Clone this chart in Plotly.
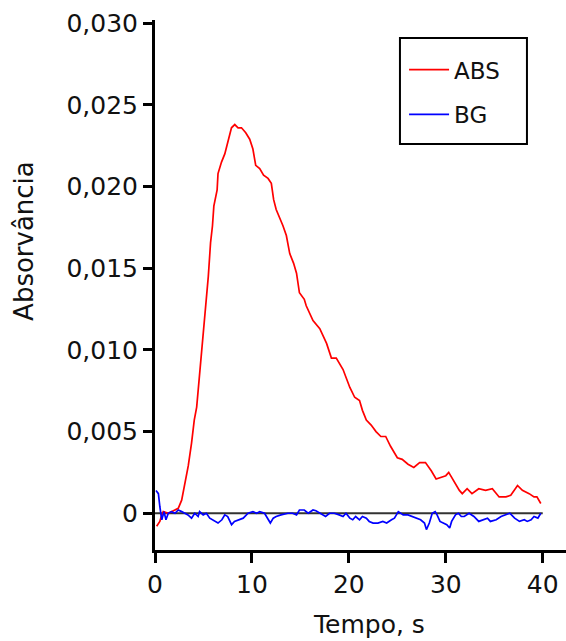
import plotly.graph_objects as go

abs_x = [0.17, 0.5, 0.7, 0.85, 1.37, 1.7, 2.06, 2.4, 2.75, 3.1, 3.43, 3.77, 4.05, 4.3, 4.56, 4.8,
         5.04, 5.3, 5.5, 5.73, 5.93, 6.07, 6.41, 6.5, 6.86, 7.2, 7.44, 7.65, 7.89, 8.23, 8.57,
         8.92, 9.36, 9.77, 10.1, 10.39, 10.8, 11.2, 11.66, 12.0, 12.24, 12.5, 12.86, 13.2, 13.55,
         13.9, 14.3, 14.6, 14.9, 15.4, 15.6, 16.3, 17.0, 17.7, 18.2, 18.7, 19.4, 20.1, 20.6, 21.1,
         21.4, 21.8, 22.3, 22.8, 23.3, 23.8, 24.3, 25.0, 25.5, 26.1, 26.7, 27.3, 27.9, 28.5, 29.0,
         29.5, 30.0, 30.3, 30.9, 31.4, 31.7, 32.2, 32.7, 33.4, 34.1, 34.8, 35.5, 36.2, 36.7, 37.4,
         37.9, 38.6, 39.1, 39.4, 39.8]
abs_y = [-0.0008, -0.0005, -0.0001, 0.0001, 0.0, 0.0001, 0.0002, 0.0003, 0.0008, 0.0018, 0.0029,
         0.0043, 0.0057, 0.0065, 0.0082, 0.0098, 0.0112, 0.0129, 0.0145, 0.01655, 0.0176, 0.0188,
         0.0198, 0.0208, 0.0215, 0.0220, 0.0225, 0.0230, 0.0236, 0.0238, 0.0236, 0.0236, 0.0233,
         0.0229, 0.0223, 0.0213, 0.0211, 0.0207, 0.0205, 0.0202, 0.0192, 0.0186, 0.0181, 0.0176,
         0.0170, 0.0159, 0.0153, 0.0147, 0.0135, 0.0131, 0.0127, 0.0118, 0.0113, 0.0104, 0.0095,
         0.0095, 0.0088, 0.0077, 0.0071, 0.0069, 0.0063, 0.0057, 0.0054, 0.0050, 0.0047, 0.0047,
         0.0041, 0.0034, 0.0033, 0.0030, 0.0028, 0.0031, 0.0031, 0.0026, 0.0021, 0.0022, 0.0023,
         0.0025, 0.0019, 0.0014, 0.0012, 0.0015, 0.0012, 0.0015, 0.0014, 0.0015, 0.0010, 0.0010,
         0.0011, 0.0017, 0.0014, 0.0012, 0.0010, 0.0010, 0.0006]

bg_x = [0.1, 0.35, 0.5, 0.7, 0.93, 1.13, 1.37, 1.7, 2.06, 2.4, 2.75, 3.1, 3.4, 3.77, 4.1, 4.45,
        4.6, 4.97, 5.3, 5.65, 6.2, 6.5, 6.9, 7.2, 7.5, 7.9, 8.2, 8.6, 9.1, 9.6, 10.1, 10.5, 10.8,
        11.3, 11.7, 11.9, 12.2, 12.5, 13.0, 13.4, 13.7, 14.2, 14.6, 14.9, 15.4, 15.8, 16.3, 16.6,
        17.1, 17.6, 18.0, 18.5, 19.0, 19.4, 19.7, 20.1, 20.4, 20.7, 21.1, 21.4, 21.8, 22.1, 22.5,
        23.0, 23.5, 23.9, 24.4, 24.7, 25.1, 25.6, 26.1, 26.6, 27.1, 27.4, 27.8, 28.0, 28.3, 28.6,
        28.9, 29.1, 29.4, 29.8, 30.1, 30.4, 30.6, 31.0, 31.3, 31.6, 31.9, 32.4, 32.9, 33.4, 33.9,
        34.3, 34.6, 35.2, 35.7, 36.2, 36.6, 37.1, 37.6, 38.1, 38.4, 38.8, 39.1, 39.5, 39.8]
bg_y = [0.0014, 0.0012, 0.0004, -0.0004, 0.0001, -0.0004, 0.0, 0.0001, 0.0, 0.0002, 0.0001, 0.0,
        -0.0001, -0.0003, 0.0, -0.0002, 0.0001, -0.0001, 0.0, -0.0003, -0.0005, -0.0006, -0.0004,
        -0.0001, -0.0002, -0.0007, -0.0005, -0.0004, -0.0003, 0.0, 0.0001, 0.0, 0.0001, 0.0,
        -0.0004, -0.0006, -0.0003, -0.0002, -0.0001, -0.00005, 0.0, 0.0, -0.0001, 0.0002, 0.0002,
        0.0, 0.0002, 0.00015, -0.00005, -0.0002, 0.0, 0.0, -0.0001, -0.0002, 0.0, -0.0003, -0.0004,
        -0.0002, -0.0004, -0.0002, -0.0003, -0.0005, -0.0006, -0.0006, -0.0005, -0.0006, -0.0004,
        -0.0003, 0.0001, -0.0001, -0.0001, -0.0002, -0.0003, -0.0004, -0.0006, -0.0010, -0.0006,
        0.0, 0.0001, -0.0001, -0.0005, -0.0006, -0.0007, -0.0009, -0.0005, -0.0001, 0.0, -0.0002,
        -0.0002, 0.0, -0.0002, -0.0005, -0.0004, -0.0003, -0.0005, -0.0004, -0.0002, -0.0001, 0.0,
        -0.0003, -0.0005, -0.0004, -0.0005, -0.0004, -0.0002, -0.0003, 0.0]

x_tickvals = [0, 10, 20, 30, 40]
x_ticktext = ["0", "10", "20", "30", "40"]
y_tickvals = [0, 0.005, 0.010, 0.015, 0.020, 0.025, 0.030]
y_ticktext = ["0", "0,005", "0,010", "0,015", "0,020", "0,025", "0,030"]
x_title = "Tempo, s"
y_title = "Absorvância"

FONT = "DejaVu Sans, sans-serif"

fig = go.Figure()
fig.add_trace(go.Scatter(x=abs_x, y=abs_y, mode="lines", name="ABS", legendgroup="a",
                         line=dict(color="#ff0000", width=1.7)))
fig.add_trace(go.Scatter(x=bg_x, y=bg_y, mode="lines", name="BG", legendgroup="b",
                         line=dict(color="#0000ff", width=1.7)))

fig.add_shape(type="line", xref="x", yref="y", x0=0, x1=40, y0=0, y1=0,
              line=dict(color="#333333", width=2), layer="below")
# legend frame
fig.add_shape(type="rect", xref="paper", yref="paper", x0=0.596, x1=0.905, y0=0.766, y1=0.966,
              line=dict(color="black", width=2), fillcolor="white", layer="above")

fig.add_annotation(text=y_title, xref="paper", yref="paper", x=-0.319, y=0.583,
                   xanchor="center", yanchor="middle", textangle=-90, showarrow=False,
                   font=dict(family=FONT, size=26, color="#111111"))
fig.add_annotation(text=x_title, xref="paper", yref="paper", x=0.52, y=-0.1415,
                   xanchor="center", yanchor="middle", showarrow=False,
                   font=dict(family=FONT, size=25, color="#111111"))

fig.update_layout(
    width=566, height=641,
    margin=dict(l=155, r=0, t=20, b=91),
    paper_bgcolor="white", plot_bgcolor="white",
    font=dict(family=FONT, size=25, color="#111111"),
    showlegend=True,
    legend=dict(x=0.606, y=0.947, xanchor="left", yanchor="top",
                borderwidth=0, bgcolor="rgba(0,0,0,0)",
                font=dict(family=FONT, size=23), tracegroupgap=12,
                entrywidth=110, itemwidth=40),
    xaxis=dict(range=[0, 42.4], tickvals=x_tickvals, ticktext=x_ticktext, automargin=False,
               showgrid=False, zeroline=False, showline=True, linecolor="black", linewidth=3,
               ticks="outside", ticklen=10, tickwidth=3, tickcolor="black"),
    yaxis=dict(range=[-0.00225, 0.0302], tickvals=y_tickvals, ticktext=y_ticktext, automargin=False,
               showgrid=False, zeroline=False, showline=True, linecolor="black", linewidth=3,
               ticks="outside", ticklen=9, tickwidth=3, tickcolor="black",
               ticklabelstandoff=0),
)

fig.write_html("out.html", config={"displayModeBar": False},
               post_script="document.body.style.margin='0px';document.body.style.overflow='hidden';")
